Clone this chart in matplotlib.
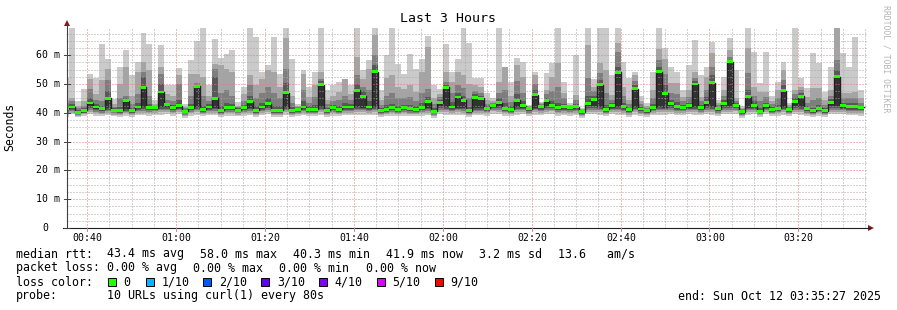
import matplotlib
matplotlib.use("Agg")
import matplotlib.pyplot as plt
from matplotlib.patches import Rectangle, Polygon
from matplotlib.lines import Line2D

# --- data: one value per 80 s step, 00:34:40 .. 03:34:40 ---
med = [41.5, 42.0, 40.2, 40.8, 43.4, 42.0, 41.4, 45.1, 40.9, 40.9, 44.2, 40.9, 42.0, 48.8, 41.7,
       41.7, 47.2, 42.8, 41.7, 42.4, 40.5, 41.7, 49.2, 41.2, 42.0, 45.1, 40.9, 41.7, 41.7, 40.9,
       41.7, 43.8, 40.9, 42.0, 43.2, 40.9, 40.9, 47.0, 40.9, 41.2, 42.0, 41.2, 41.2, 49.8, 40.9,
       41.7, 41.2, 42.0, 42.0, 47.8, 45.8, 42.0, 54.2, 40.9, 41.2, 41.7, 41.2, 41.7, 41.4, 41.2,
       41.7, 43.8, 40.5, 43.5, 48.8, 42.0, 45.5, 44.3, 40.7, 45.4, 45.0, 41.6, 42.5, 43.5, 41.6,
       41.2, 44.4, 42.4, 41.4, 46.3, 42.1, 44.2, 42.6, 41.7, 42.1, 41.7, 42.1, 40.4, 43.3, 44.7,
       49.7, 41.2, 42.4, 54.0, 42.1, 41.0, 48.4, 41.3, 40.7, 41.9, 54.3, 46.8, 43.1, 42.1, 41.9,
       42.4, 50.0, 41.8, 43.5, 50.5, 41.4, 43.1, 57.8, 42.6, 40.3, 45.6, 42.5, 40.6, 42.4, 41.2,
       41.6, 47.7, 41.2, 43.9, 45.8, 41.4, 40.7, 41.6, 40.7, 43.5, 52.5, 42.4, 42.1, 42.1, 41.9]

p10 = [52, 70, 44.0, 48.4, 53.6, 52.0, 64.0, 58.8, 44.9, 55.9, 61.7, 53.0, 57.6, 67.8, 64.0,
       44.3, 63.4, 49.5, 49.5, 55.6, 43.0, 58.2, 64.8, 70, 49.8, 65.7, 59.0, 60.5, 61.7, 43.7,
       49.0, 70, 66.3, 54.2, 56.5, 66.3, 53.6, 70, 58.8, 43.2, 54.7, 49.0, 54.2, 70, 47.8,
       49.5, 50.7, 51.9, 49.5, 70, 54.7, 58.2, 70, 47.8, 60.0, 70, 57.0, 53.6, 60.5, 55.3,
       58.8, 66.7, 49.5, 48.4, 64.0, 54.2, 58.8, 70, 64.1, 52.0, 52.0, 46.8, 45.0, 70, 56.0,
       50.8, 58.9, 57.8, 42.8, 54.3, 43.8, 53.7, 57.2, 70, 50.8, 43.3, 60.0, 41.6, 70, 51.6,
       70, 70, 53.1, 70, 57.8, 52.0, 54.3, 46.0, 43.5, 54.3, 70, 62.4, 56.0, 54.3, 47.9,
       56.6, 65.3, 53.1, 56.0, 64.7, 44.5, 52.5, 65.9, 54.9, 42.5, 70, 61.2, 50.2, 61.2, 46.0,
       50.8, 57.8, 43.5, 70, 52.0, 48.5, 60.6, 57.2, 47.3, 56.0, 70, 60.6, 56.0, 66.4, 47.9]

p9 = [44.5, 45.0, 42.5, 44.0, 51.9, 46.6, 51.3, 55.3, 43.0, 50.0, 55.9, 46.0, 54.2, 57.6, 55.0,
      43.0, 56.0, 46.5, 46.0, 53.0, 42.0, 53.6, 53.6, 52.5, 46.0, 57.0, 56.5, 55.3, 54.2, 42.5,
      46.6, 53.0, 49.5, 51.9, 54.8, 54.2, 49.0, 65.8, 46.0, 42.4, 53.6, 45.5, 49.5, 54.2, 44.5,
      46.0, 47.2, 51.9, 46.5, 59.4, 51.9, 55.3, 66.9, 44.5, 52.0, 53.0, 49.0, 48.4, 49.5, 47.2,
      54.2, 63.0, 45.0, 46.6, 54.2, 50.7, 54.2, 53.0, 50.0, 49.6, 49.0, 44.5, 44.0, 50.8, 56.0,
      46.0, 56.6, 52.5, 42.3, 53.1, 43.3, 47.9, 52.5, 57.2, 47.0, 42.8, 46.2, 41.2, 63.5, 49.0,
      57.2, 54.9, 46.2, 64.1, 49.0, 44.5, 53.0, 44.0, 42.5, 48.0, 62.0, 58.8, 50.2, 50.2, 45.5,
      47.9, 54.3, 45.6, 52.5, 60.6, 43.5, 47.9, 61.8, 45.1, 41.8, 62.4, 49.0, 47.3, 47.3, 44.0,
      47.9, 55.0, 42.6, 47.9, 49.0, 45.5, 48.5, 48.5, 44.5, 47.9, 70, 46.8, 46.8, 47.3, 45.0]

p8 = [43.5, 44.0, 41.5, 42.5, 48.4, 44.5, 44.0, 51.3, 42.0, 45.0, 46.0, 43.0, 46.5, 54.2, 46.0,
      42.5, 53.5, 44.5, 44.0, 50.0, 41.5, 46.0, 50.5, 46.0, 44.0, 55.3, 47.0, 48.0, 46.0, 42.0,
      44.0, 49.5, 45.0, 47.0, 49.0, 47.0, 45.0, 55.3, 43.5, 42.0, 48.0, 43.5, 45.5, 51.9, 43.0,
      44.0, 44.5, 46.0, 44.5, 53.0, 49.0, 48.0, 60.0, 42.8, 46.0, 47.0, 45.0, 45.0, 45.5, 44.0,
      47.0, 48.4, 43.0, 45.5, 50.7, 47.0, 49.5, 48.5, 45.0, 47.5, 47.0, 43.2, 43.5, 47.0, 48.0,
      43.8, 51.0, 47.0, 42.0, 50.0, 42.9, 46.5, 47.5, 49.0, 45.0, 42.5, 44.5, 41.0, 52.0, 47.5,
      53.7, 47.0, 44.5, 61.2, 46.0, 43.0, 51.0, 43.0, 41.8, 45.0, 58.5, 53.5, 47.0, 46.5, 44.0,
      45.5, 52.0, 44.0, 48.0, 56.0, 42.8, 46.0, 59.5, 44.2, 41.3, 53.7, 46.0, 44.0, 45.5, 43.0,
      45.0, 51.5, 42.1, 46.5, 47.8, 43.5, 44.5, 45.0, 42.8, 46.0, 58.3, 45.0, 45.0, 45.2, 43.5]

p7 = [42.5, 43.0, 41.0, 41.5, 45.0, 43.0, 42.5, 47.5, 41.5, 42.0, 45.2, 41.8, 43.5, 52.5, 43.0,
      42.1, 50.0, 43.5, 42.6, 44.5, 41.0, 43.0, 49.8, 42.5, 43.0, 52.5, 42.5, 43.5, 43.0, 41.5,
      42.8, 46.0, 42.5, 43.5, 45.0, 42.5, 42.2, 50.5, 42.0, 41.7, 44.0, 42.3, 42.8, 51.0, 41.8,
      42.6, 42.5, 43.5, 43.0, 50.0, 47.5, 44.0, 56.5, 41.8, 42.8, 43.0, 42.5, 42.8, 42.6, 42.3,
      43.5, 45.5, 41.5, 44.5, 49.8, 43.8, 47.0, 46.0, 42.0, 46.5, 46.0, 42.3, 43.0, 45.0, 43.5,
      42.3, 46.5, 44.0, 41.8, 48.0, 42.5, 45.3, 44.0, 43.5, 43.2, 42.2, 43.2, 40.8, 46.0, 46.0,
      51.5, 42.8, 43.5, 56.0, 43.5, 41.8, 49.5, 42.0, 41.3, 43.0, 56.0, 49.5, 44.5, 43.8, 42.8,
      43.5, 51.0, 42.8, 45.5, 53.0, 42.0, 44.5, 58.5, 43.5, 40.8, 48.0, 44.0, 41.8, 43.5, 42.0,
      42.8, 49.5, 41.7, 45.2, 46.8, 42.2, 41.8, 42.8, 41.6, 44.8, 55.0, 43.5, 43.3, 43.3, 42.4]

p5 = [41.0, 41.5, 39.8, 40.4, 42.5, 41.3, 40.9, 41.5, 40.5, 40.5, 41.2, 40.5, 41.5, 42.0, 41.2,
      41.3, 42.0, 42.0, 41.2, 41.8, 40.1, 41.2, 42.0, 40.8, 41.5, 41.8, 40.5, 41.2, 41.2, 40.5,
      41.2, 41.8, 40.5, 41.5, 42.0, 40.5, 40.5, 42.0, 40.5, 40.8, 41.5, 40.8, 40.8, 42.0, 40.5,
      41.2, 40.8, 41.5, 41.5, 42.0, 41.8, 41.5, 42.0, 40.5, 40.8, 41.2, 40.8, 41.2, 41.0, 40.8,
      41.2, 41.8, 40.1, 42.5, 42.0, 41.5, 41.8, 41.8, 40.3, 41.5, 41.5, 41.1, 42.0, 42.5, 41.1,
      40.8, 42.0, 41.8, 41.0, 41.8, 41.6, 42.3, 42.0, 41.2, 41.6, 41.2, 41.6, 40.0, 42.2, 42.5,
      42.0, 40.8, 41.8, 42.0, 41.6, 40.6, 42.0, 40.9, 40.3, 41.4, 42.0, 41.8, 42.5, 41.6, 41.4,
      41.8, 42.0, 41.3, 42.5, 42.0, 41.0, 42.4, 42.5, 42.0, 39.9, 41.8, 41.9, 40.2, 41.8, 40.8,
      41.1, 42.0, 40.8, 42.5, 42.0, 41.0, 40.3, 41.1, 40.3, 42.5, 42.2, 41.8, 41.6, 41.6, 41.4]

p4 = [40.5, 41.0, 39.5, 40.1, 41.8, 40.8, 40.5, 41.0, 40.2, 40.1, 40.7, 40.1, 41.0, 41.3, 40.8,
      40.9, 41.4, 41.4, 40.8, 41.3, 39.8, 40.8, 41.4, 40.4, 41.0, 41.2, 40.1, 40.8, 40.8, 40.2,
      40.8, 41.2, 40.1, 41.0, 41.5, 40.1, 40.1, 41.4, 40.1, 40.4, 41.0, 40.4, 40.4, 41.4, 40.1,
      40.8, 40.4, 41.0, 41.0, 41.4, 41.3, 41.0, 41.4, 40.1, 40.4, 40.8, 40.4, 40.8, 40.6, 40.4,
      40.8, 41.2, 39.8, 41.8, 41.4, 41.0, 41.3, 41.2, 40.0, 41.0, 41.0, 40.7, 41.5, 41.8, 40.7,
      40.4, 41.4, 41.3, 40.6, 41.3, 41.1, 41.6, 41.5, 40.8, 41.1, 40.8, 41.1, 39.7, 41.6, 41.8,
      41.4, 40.4, 41.3, 41.4, 41.1, 40.2, 41.4, 40.5, 40.0, 41.0, 41.4, 41.3, 41.8, 41.1, 41.0,
      41.3, 41.4, 40.9, 41.8, 41.4, 40.6, 41.7, 41.8, 41.5, 39.6, 41.3, 41.4, 39.9, 41.3, 40.4,
      40.7, 41.4, 40.4, 41.8, 41.4, 40.6, 40.0, 40.7, 40.0, 41.8, 41.6, 41.3, 41.1, 41.1, 41.0]

p3 = [40.0, 40.5, 39.2, 39.8, 41.0, 40.3, 40.0, 40.5, 39.8, 39.7, 40.3, 39.7, 40.5, 40.7, 40.3,
      40.5, 40.8, 40.8, 40.3, 40.8, 39.4, 40.3, 40.8, 40.0, 40.5, 40.6, 39.7, 40.3, 40.3, 39.8,
      40.3, 40.6, 39.7, 40.5, 41.0, 39.7, 39.7, 40.8, 39.7, 40.0, 40.5, 40.0, 40.0, 40.8, 39.7,
      40.3, 40.0, 40.5, 40.5, 40.8, 40.8, 40.5, 40.8, 39.7, 40.0, 40.3, 40.0, 40.3, 40.1, 40.0,
      40.3, 40.6, 39.4, 41.0, 40.8, 40.5, 40.8, 40.6, 39.6, 40.5, 40.5, 40.2, 41.0, 41.0, 40.2,
      40.0, 40.8, 40.8, 40.1, 40.8, 40.6, 41.0, 41.0, 40.3, 40.6, 40.3, 40.6, 39.3, 41.0, 41.0,
      40.8, 40.0, 40.8, 40.8, 40.6, 39.8, 40.8, 40.0, 39.6, 40.5, 40.8, 40.8, 41.0, 40.6, 40.5,
      40.8, 40.8, 40.4, 41.0, 40.8, 40.1, 41.0, 41.0, 41.0, 39.2, 40.8, 40.9, 39.5, 40.8, 40.0,
      40.2, 40.8, 40.0, 41.0, 40.8, 40.1, 39.6, 40.2, 39.6, 41.0, 41.0, 40.8, 40.6, 40.6, 40.5]

p2 = [39.5, 40.0, 39.0, 39.5, 40.3, 39.8, 39.5, 40.0, 39.4, 39.3, 39.8, 39.3, 40.0, 40.1, 39.8,
      40.0, 40.2, 40.3, 39.8, 40.3, 39.0, 39.8, 40.2, 39.5, 40.0, 40.1, 39.3, 39.8, 39.8, 39.4,
      39.8, 40.1, 39.3, 40.0, 40.4, 39.3, 39.3, 40.2, 39.3, 39.6, 40.0, 39.6, 39.6, 40.2, 39.3,
      39.8, 39.6, 40.0, 40.0, 40.2, 40.2, 40.0, 40.2, 39.3, 39.6, 39.8, 39.6, 39.8, 39.7, 39.6,
      39.8, 40.1, 39.0, 40.4, 40.2, 40.0, 40.2, 40.1, 39.2, 40.0, 40.0, 39.8, 40.5, 40.4, 39.8,
      39.6, 40.2, 40.3, 39.7, 40.2, 40.1, 40.4, 40.5, 39.8, 40.1, 39.8, 40.1, 38.9, 40.4, 40.4,
      40.2, 39.6, 40.3, 40.2, 40.1, 39.4, 40.2, 39.6, 39.2, 40.0, 40.2, 40.2, 40.4, 40.1, 40.0,
      40.3, 40.2, 39.9, 40.4, 40.2, 39.7, 40.4, 40.4, 40.5, 38.8, 40.2, 40.4, 39.1, 40.3, 39.6,
      39.8, 40.2, 39.6, 40.4, 40.2, 39.7, 39.2, 39.8, 39.2, 40.4, 40.4, 40.3, 40.1, 40.1, 39.8]

p1 = [38.5, 39.5, 38.6, 39.0, 39.5, 39.0, 38.8, 39.3, 38.8, 38.7, 39.0, 38.6, 39.2, 39.4, 39.0,
      39.2, 39.4, 39.5, 39.0, 39.5, 38.3, 39.0, 39.4, 38.8, 39.2, 39.3, 38.6, 39.0, 39.0, 38.8,
      39.0, 39.3, 38.6, 39.2, 39.6, 38.6, 38.6, 39.4, 38.6, 39.0, 39.2, 38.9, 38.9, 39.4, 38.6,
      39.0, 38.9, 39.2, 39.2, 39.4, 39.4, 39.2, 39.4, 38.6, 38.9, 39.0, 38.9, 39.0, 39.0, 38.9,
      39.0, 39.3, 38.3, 39.5, 39.4, 39.2, 39.4, 39.3, 38.5, 39.2, 39.2, 39.0, 39.6, 39.5, 39.0,
      38.9, 39.4, 39.5, 39.0, 39.4, 39.3, 39.5, 39.6, 39.0, 39.3, 39.0, 39.3, 38.2, 39.5, 39.5,
      39.4, 38.9, 39.5, 39.4, 39.3, 38.7, 39.4, 38.9, 38.5, 39.2, 39.4, 39.4, 39.5, 39.3, 39.2,
      39.5, 39.4, 39.1, 39.5, 39.4, 39.0, 39.5, 39.5, 39.6, 38.2, 39.4, 39.5, 38.4, 39.5, 38.9,
      39.0, 39.4, 38.9, 39.5, 39.4, 39.0, 38.5, 39.0, 38.5, 39.5, 39.5, 39.5, 39.3, 39.3, 39.0]

tick_labels = ["00:40", "01:00", "01:20", "01:40", "02:00", "02:20", "02:40", "03:00", "03:20"]
tick_minutes = [40, 60, 80, 100, 120, 140, 160, 180, 200]
loss_names = ["0", "1/10", "2/10", "3/10", "4/10", "5/10", "9/10"]
loss_colors = ["#26ff00", "#00b8ff", "#0059ff", "#5e00ff", "#7e00ff", "#dd00ff", "#ff0000"]

# --- layout (pixels) ---
W, H = 897, 310
X0, X1, YB, YT = 67, 867, 228, 28
T_START, T_END = 35 + 27 / 60, 215 + 27 / 60   # 00:35:27 .. 03:35:27
Y_MAX = 69.44
MONO = "DejaVu Sans Mono"


def px(x, y):
    return x / W, 1 - y / H


fig = plt.figure(figsize=(W / 100, H / 100), dpi=100)
fig.patch.set_facecolor("white")
ax = fig.add_axes([X0 / W, 1 - YB / H, (X1 - X0) / W, (YB - YT) / H])
ax.set_facecolor("white")

step = 80 / 60
first = 34 + 40 / 60
edges = [first + k * step for k in range(len(med) + 1)]


def ext(a):
    return a + a[-1:]


# smoke layers, outermost (lightest) first
smoke = [(p1, p10, "#cacaca"), (p2, p9, "#a4a4a4"), (p3, p8, "#7e7e7e"),
         (p4, p7, "#585858"), (p5, med, "#323232")]
for lo, hi, c in smoke:
    ax.fill_between(edges, ext(lo), ext(hi), step="post", color=c, lw=0, zorder=1)

# median: dark step line plus loss-coloured band
ax.step(edges, ext(med), where="post", color="#202020", lw=1.0, zorder=3)
sw = 0.5
ax.fill_between(edges, ext([m - sw for m in med]), ext([m + sw for m in med]),
                step="post", color=loss_colors[0], lw=0, zorder=4)

ax.set_xlim(T_START, T_END)
ax.set_ylim(0, Y_MAX)
ax.set_xticks(tick_minutes)
ax.set_xticks([m for m in range(40, 216, 5)], minor=True)
ax.set_yticks([0, 10, 20, 30, 40, 50, 60])
ax.set_yticks([v * 2.5 for v in range(28)], minor=True)
ax.grid(which="minor", color="#a8a8a8", lw=0.72, linestyle=(0, (1, 2)), zorder=5)
ax.grid(which="major", color="#e87878", lw=0.72, linestyle=(0, (1, 2)), zorder=5)
ax.set_axisbelow(False)
ax.tick_params(which="both", length=0, labelleft=False, labelbottom=False)
for s in ax.spines.values():
    s.set_visible(False)

# axes lines and arrows
fig.add_artist(Line2D([px(X0, 0)[0]] * 2, [px(0, YB)[1], px(0, 25)[1]], color="#404040", lw=0.8))
fig.add_artist(Line2D([px(63, 0)[0], px(870, 0)[0]], [px(0, YB)[1]] * 2, color="#202020", lw=0.8))
fig.add_artist(Polygon([px(64, 26), px(70, 26), px(67, 20)], closed=True, color="#7f1f1f", lw=0))
fig.add_artist(Polygon([px(868, 225), px(868, 231), px(874, 228)], closed=True, color="#7f1f1f", lw=0))

# y labels
for v in [0, 10, 20, 30, 40, 50, 60]:
    y = YB - v * (YB - YT) / Y_MAX
    lab = "0" if v == 0 else f"{v} m"
    xl = 48 if v == 0 else 60
    fig.text(*px(xl, y), lab, ha="right", va="center", fontsize=7.1, family=MONO)
    fig.add_artist(Line2D([px(64, 0)[0], px(70, 0)[0]], [px(0, y)[1]] * 2, color="#404040", lw=0.7))

# x labels
for m, lab in zip(tick_minutes, tick_labels):
    x = X0 + (m - T_START) * (X1 - X0) / (T_END - T_START)
    fig.text(*px(x + 0.5, 238), lab, ha="center", va="center", fontsize=7.1, family=MONO)
    fig.add_artist(Line2D([px(x, 0)[0]] * 2, [px(0, 228)[1], px(0, 231)[1]], color="#e08080", lw=0.7))

fig.text(*px(448, 19), "Last 3 Hours", ha="center", va="center", fontsize=9.5, family=MONO)
fig.text(*px(10, 127), "Seconds", ha="center", va="center", rotation=90, fontsize=8.3, family=MONO)
fig.text(*px(886, 5), "RRDTOOL / TOBI OETIKER", ha="center", va="top", rotation=270,
         fontsize=5.9, family=MONO, color="#b4b4b4")

# legend rows
FS = 8.35
rows = [
    (254, [(16, "median rtt:"), (106.7, "43.4 ms avg"), (200, "58.0 ms max"),
           (293.3, "40.3 ms min"), (386, "41.9 ms now"), (479.3, "3.2 ms sd"),
           (558.3, "13.6   am/s")]),
    (268, [(16, "packet loss:"), (106.7, "0.00 % avg"), (193.3, "0.00 % max"),
           (279.3, "0.00 % min"), (365.7, "0.00 % now")]),
    (282, [(16, "loss color:")]),
    (296, [(16, "probe:"), (106.7, "10 URLs using curl(1) every 80s")]),
]
for y, items in rows:
    for x, s in items:
        fig.text(*px(x, y), s, ha="left", va="center", fontsize=FS, family=MONO)

sq_x = [108, 145.7, 203.3, 261.3, 319, 377, 435]
for x, name, c in zip(sq_x, loss_names, loss_colors):
    fig.add_artist(Rectangle(px(x, 286), 8 / W, 8 / H, facecolor=c, edgecolor="black", lw=0.7))
    fig.text(*px(x + 15.5, 282), name, ha="left", va="center", fontsize=FS, family=MONO)

fig.text(*px(881, 296), "end: Sun Oct 12 03:35:27 2025", ha="right", va="center",
         fontsize=FS, family=MONO)

fig.savefig("out.png", dpi=100, facecolor="white")
